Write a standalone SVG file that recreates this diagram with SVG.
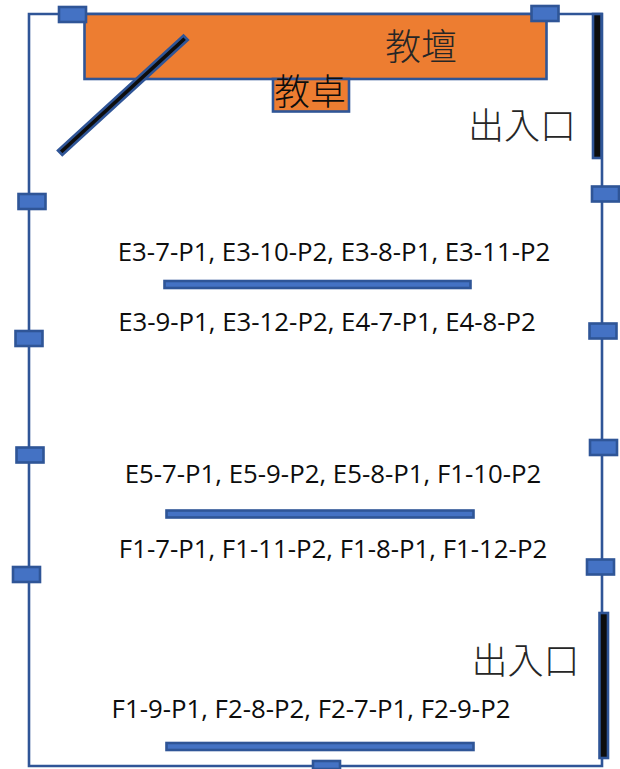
<svg xmlns="http://www.w3.org/2000/svg" width="620" height="769" viewBox="0 0 620 769">
<style>
.s{fill:#4472c4;stroke:#2f5597;stroke-width:2.6}
.o{fill:#ed7d31;stroke:#2f5597;stroke-width:2.6}
.k{fill:#0d0d0d;stroke:#2f5597;stroke-width:2.6}
.t{font-family:"Open Sans","Noto Sans","Liberation Sans",sans-serif;font-size:25.8px;fill:#0d0d0d;text-anchor:middle}
.c{font-family:"Noto Sans CJK TC","Noto Sans CJK SC",sans-serif;font-size:36px;fill:#262626;font-weight:300}
</style>
<rect width="620" height="769" fill="#fff"/>
<g id="room"><path d="M29 14H602V766H29Z" fill="none" stroke="#2f5597" stroke-width="2.6"/></g>
<g id="platform"><rect class="o" x="84.500" y="14" width="462" height="65"/><text class="c" x="385" y="60" style="fill:#262626">教壇</text></g>
<g id="desk"><rect class="o" x="273" y="79" width="76" height="32.500"/><text class="c" x="274" y="104.500" style="fill:#0d0d0d">教卓</text></g>
<g id="door-diagonal"><path class="k" d="M58 150.500L183.500 35.500L187.800 40L62.300 155Z"/></g>
<g id="door-top"><rect class="k" x="593" y="14" width="8.500" height="144"/></g>
<g id="door-bottom"><rect class="k" x="599.500" y="613" width="8.500" height="145"/></g>
<g id="windows">
<rect class="s" x="59" y="7" width="27" height="15"/>
<rect class="s" x="531.500" y="6" width="27" height="15"/>
<rect class="s" x="18.500" y="194" width="27" height="15"/>
<rect class="s" x="592" y="186.500" width="27" height="15"/>
<rect class="s" x="15.500" y="331" width="27" height="15"/>
<rect class="s" x="589.500" y="323.500" width="27" height="15"/>
<rect class="s" x="16.500" y="447.500" width="27" height="15"/>
<rect class="s" x="590" y="440" width="27" height="15"/>
<rect class="s" x="13" y="567" width="27" height="15"/>
<rect class="s" x="587" y="559.500" width="27" height="15"/>
<rect class="s" x="313" y="761" width="27" height="8"/>
</g>
<g id="tables">
<rect class="s" x="164.500" y="281" width="306" height="7"/>
<rect class="s" x="166.500" y="510.500" width="307" height="7"/>
<rect class="s" x="166.500" y="743" width="307" height="7"/>
</g>
<g id="labels">
<text class="t" x="334" y="261">E3-7-P1, E3-10-P2, E3-8-P1, E3-11-P2</text>
<text class="t" x="327" y="331">E3-9-P1, E3-12-P2, E4-7-P1, E4-8-P2</text>
<text class="t" x="333" y="483">E5-7-P1, E5-9-P2, E5-8-P1, F1-10-P2</text>
<text class="t" x="333" y="558">F1-7-P1, F1-11-P2, F1-8-P1, F1-12-P2</text>
<text class="t" x="311" y="718">F1-9-P1, F2-8-P2, F2-7-P1, F2-9-P2</text>
<text class="c" x="468" y="138.500">出入口</text>
<text class="c" x="471.500" y="673.500">出入口</text>
</g>
</svg>
